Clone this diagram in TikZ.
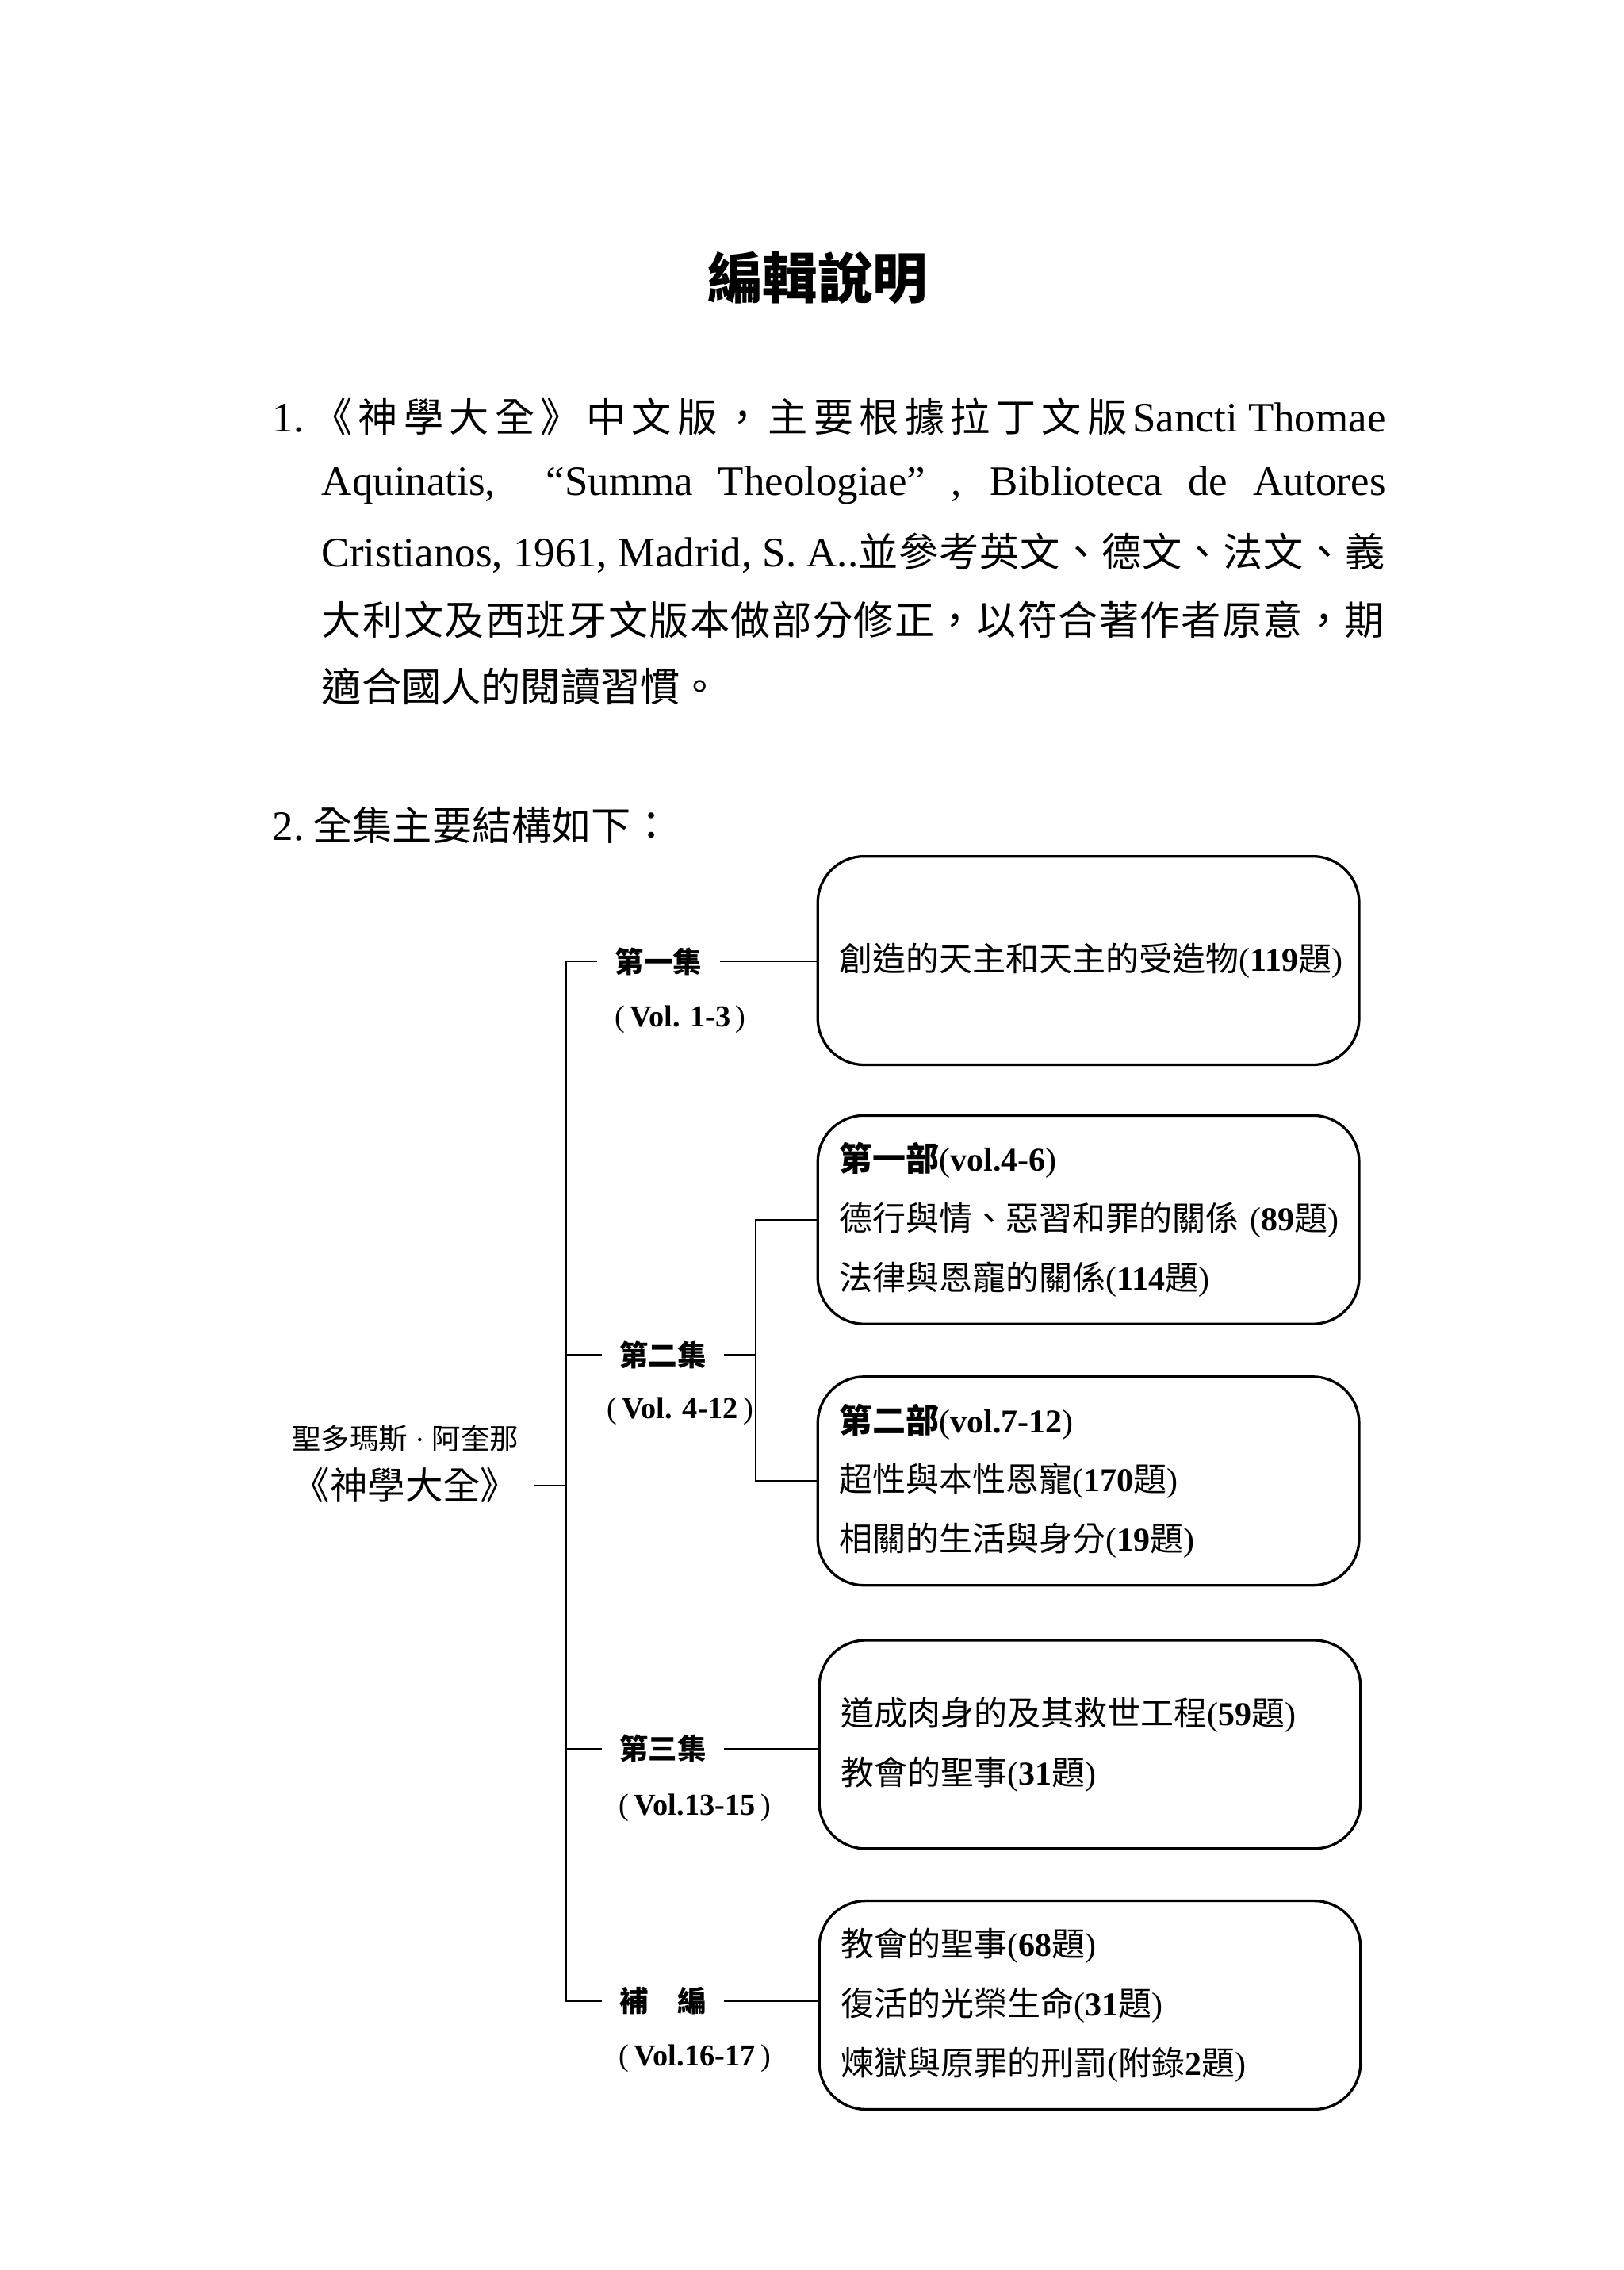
\documentclass[tikz,border=0pt]{standalone}
\usepackage{fontspec}
\setmainfont{Liberation Serif}
\newfontfamily\cjk{Noto Sans CJK TC}
\newcommand{\zh}[1]{{\cjk #1}}
\newcommand{\zhb}[1]{{\cjk\bfseries #1}}
\newcommand{\tcount}[1]{(\textbf{#1}\zh{題})}
\def\spreadA#1{\ifx#1\relax\else#1\hskip0pt plus 1fil\relax\expandafter\spreadA\fi}
\newcommand{\bz}[1]{{\cjk\fontsize{13.75}{17}\selectfont #1}}
\newcommand{\bzs}[1]{{\cjk\fontsize{13.75}{17}\selectfont\spreadA#1\relax}}
\tikzset{
  box/.style={draw, line width=0.9pt, rounded corners=16pt, text width=172pt,
    inner xsep=7.5pt, inner ysep=0pt, minimum height=72pt, align=left,
    font=\fontsize{11.5}{20.5}\selectfont},
  lab/.style={inner xsep=6pt, inner ysep=2pt, font=\fontsize{10}{12}\selectfont\cjk\bfseries},
  vol/.style={inner sep=1pt, font=\fontsize{10.5}{12}\selectfont},
  ln/.style={line width=0.6pt},
  body/.style={anchor=west, inner sep=0pt, font=\fontsize{14.5}{17}\selectfont}
}
\begin{document}
\begin{tikzpicture}[x=0.5pt,y=-0.5pt]
\useasboundingbox[fill=white] (0,0) rectangle (1122,1568);

% title
\node[font=\cjk\bfseries\fontsize{19}{22}\selectfont] (title) at (565,192) {編輯說明};

% paragraph 1
\node[body] (p1) at (188,288) {\makebox[384.5pt][s]{1.\kern3pt\bzs{《神學大全》中文版，主要根據拉丁文版}\mbox{Sancti Thomae}}};
\node[body] (p2) at (222,335) {\makebox[367.5pt][s]{Aquinatis,\ \ “Summa Theologiae” , Biblioteca de Autores}};
\node[body] (p3) at (222,382) {\makebox[367.5pt][s]{\mbox{Cristianos, 1961, Madrid, S. A..}\bzs{並參考英文、德文、法文、義}}};
\node[body] (p4) at (222,428) {\makebox[367.5pt][s]{\bzs{大利文及西班牙文版本做部分修正，以符合著作者原意，期}}};
\node[body] (p5) at (222,474) {\bz{適合國人的閱讀習慣。}};
\node[body] (p6) at (188,570) {2.\kern3pt\bz{全集主要結構如下：}};

% root
\node[inner xsep=5.5pt, inner ysep=1pt, font=\fontsize{10}{12}\selectfont] (r1) at (280,994) {\zh{聖多瑪斯} · \zh{阿奎那}};
\node[inner xsep=5.5pt, inner ysep=1pt, font=\fontsize{13}{15}\selectfont\cjk] (r2) at (280,1026) {《神學大全》};

% level-1 labels
\node[lab] (l1) at (455,664) {第一集};
\node[vol] (v1) at (470,704) {(\,\textbf{Vol. 1-3}\,)};
\node[lab] (l2) at (458,936) {第二集};
\node[vol] (v2) at (470,975) {(\,\textbf{Vol. 4-12}\,)};
\node[lab] (l3) at (458,1208) {第三集};
\node[vol] (v3) at (480,1249) {(\,\textbf{Vol.13-15}\,)};
\node[lab] (l4) at (458,1382) {補　編};
\node[vol] (v4) at (480,1422) {(\,\textbf{Vol.16-17}\,)};

% boxes
\node[box] (b1) at (752,663.5) {\mbox{\zh{創造的天主和天主的受造物}\tcount{119}}};
\node[box] (b2a) at (752,842.5) {\zhb{第一部}(\textbf{vol.4-6})\\
  \mbox{\zh{德行與情、惡習和罪的關係}\ \tcount{89}}\\
  \zh{法律與恩寵的關係}\tcount{114}};
\node[box] (b2b) at (752,1023) {\zhb{第二部}(\textbf{vol.7-12})\\
  \zh{超性與本性恩寵}\tcount{170}\\
  \zh{相關的生活與身分}\tcount{19}};
\node[box] (b3) at (753,1205) {\zh{道成肉身的及其救世工程}\tcount{59}\\
  \zh{教會的聖事}\tcount{31}};
\node[box] (b4) at (753,1385) {\zh{教會的聖事}\tcount{68}\\
  \zh{復活的光榮生命}\tcount{31}\\
  \zh{煉獄與原罪的刑罰}(\zh{附錄}\textbf{2}\zh{題})};

% connectors
\coordinate (trunk) at (391,1022);
\coordinate (sub) at (522,936);
\draw[ln] (l1.west) -- (l1.west -| trunk) -- (l4.west -| trunk) -- (l4.west);
\draw[ln] (l2.west) -- (l2.west -| trunk);
\draw[ln] (l3.west) -- (l3.west -| trunk);
\draw[ln] (r2.east) -- (r2.east -| trunk);
\draw[ln] (l1.east) -- (l1.east -| b1.west);
\draw[ln] (l2.east) -- (sub);
\draw[ln] (b2a.west) -- (b2a.west -| sub) -- (b2b.west -| sub) -- (b2b.west);
\draw[ln] (l3.east) -- (l3.east -| b3.west);
\draw[ln] (l4.east) -- (l4.east -| b4.west);
\end{tikzpicture}
\end{document}
